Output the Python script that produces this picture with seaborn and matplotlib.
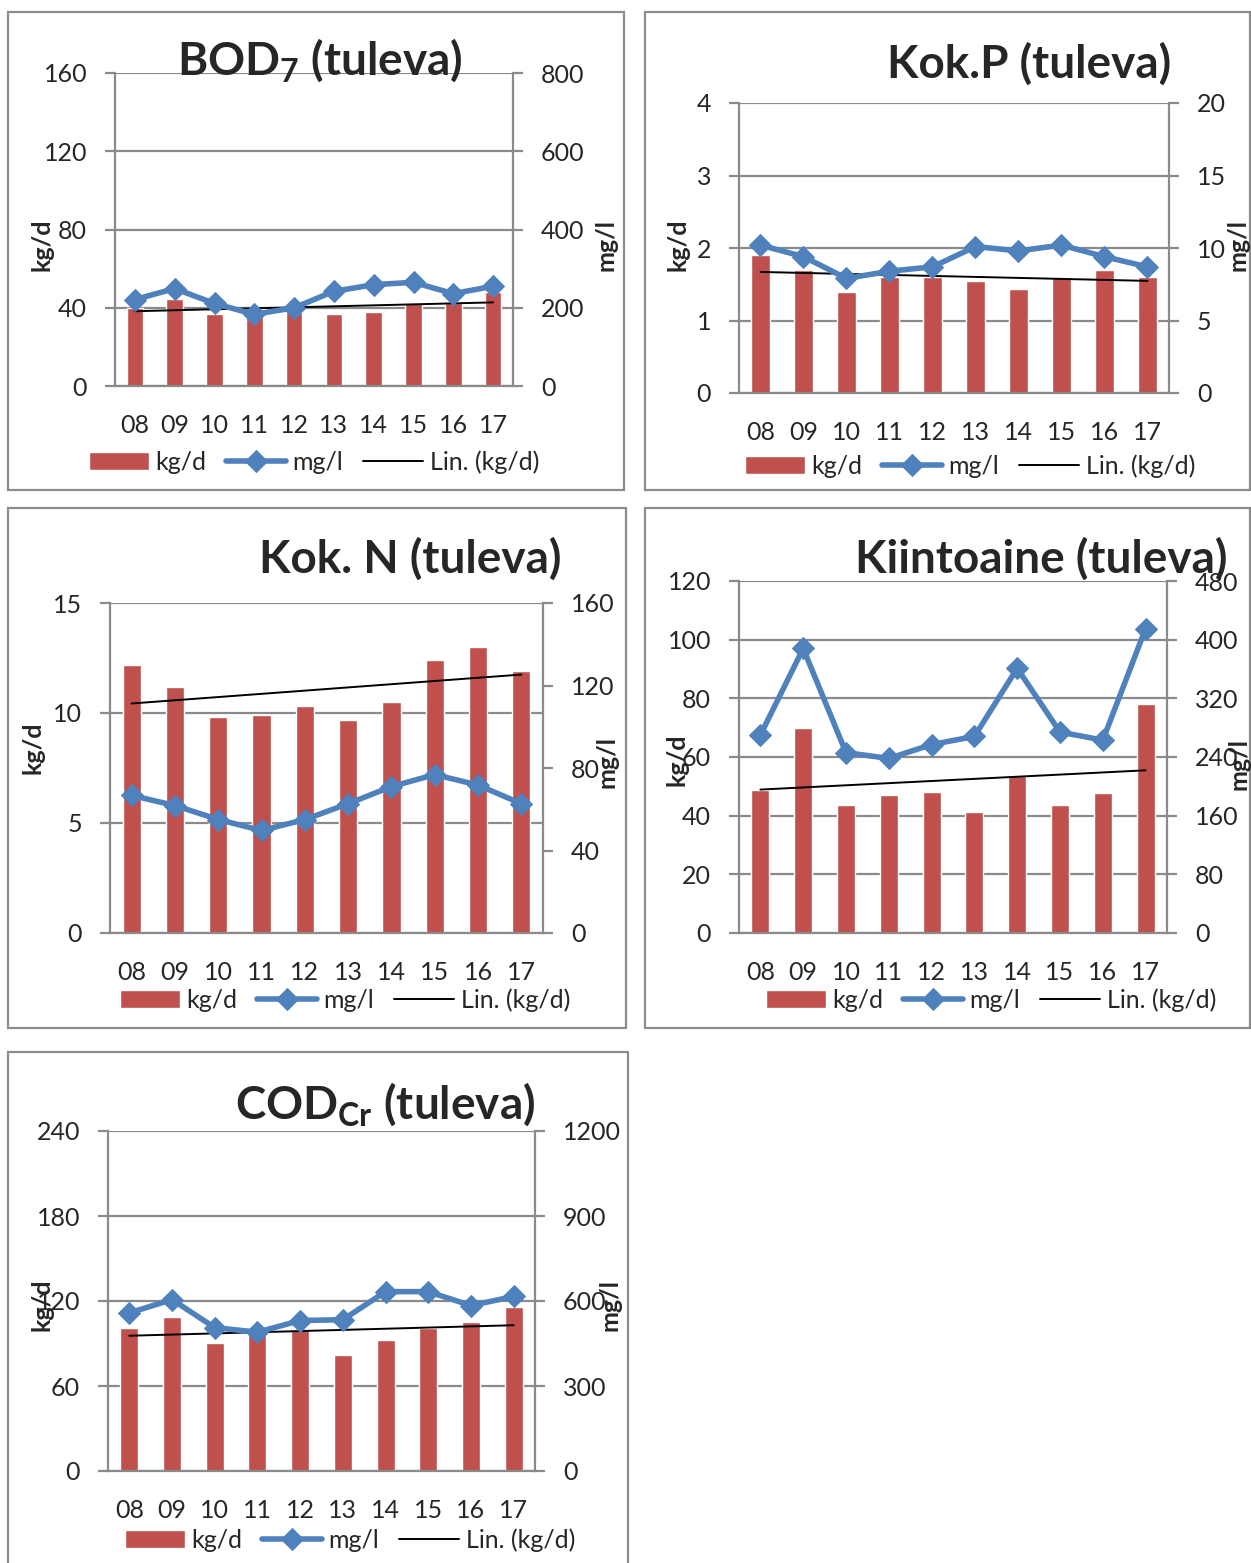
import numpy as np
import matplotlib
matplotlib.use("Agg")
import matplotlib.pyplot as plt
import matplotlib.patches as mpatches
from matplotlib.ticker import FixedLocator
import seaborn as sns

# --- data ---
years = ["08", "09", "10", "11", "12", "13", "14", "15", "16", "17"]

bod_kg = [40, 44.7, 37, 37.5, 38, 37, 37.7, 42.5, 42.5, 47.9]
bod_mg = [221, 249, 211, 183, 200, 242, 259, 265, 236, 255]

kokp_kg = [1.9, 1.7, 1.4, 1.6, 1.6, 1.55, 1.43, 1.6, 1.7, 1.6]
kokp_mg = [10.2, 9.4, 7.9, 8.4, 8.7, 10.1, 9.8, 10.2, 9.4, 8.7]

kokn_kg = [12.2, 11.2, 9.8, 9.9, 10.3, 9.7, 10.5, 12.4, 13.0, 11.9]
kokn_mg = [66.7, 61.8, 55, 49.7, 55, 62.7, 71, 76.8, 71.7, 62.7]

kiinto_kg = [48.8, 69.8, 43.8, 47.1, 48, 41.3, 53.5, 43.8, 47.8, 77.9]
kiinto_mg = [270, 388, 246, 238, 257, 268, 361, 274, 263, 415]

cod_kg = [101, 108.7, 90.2, 96, 99.6, 81.7, 92.5, 101, 105.2, 116]
cod_mg = [558, 605, 506, 490, 531, 534, 633, 633, 584, 616]

kg_ticks = {
    "bod": [0, 40, 80, 120, 160],
    "kokp": [0, 1, 2, 3, 4],
    "kokn": [0, 5, 10, 15],
    "kiinto": [0, 20, 40, 60, 80, 100, 120],
    "cod": [0, 60, 120, 180, 240],
}
mg_ticks = {
    "bod": [0, 200, 400, 600, 800],
    "kokp": [0, 5, 10, 15, 20],
    "kokn": [0, 40, 80, 120, 160],
    "kiinto": [0, 80, 160, 240, 320, 400, 480],
    "cod": [0, 300, 600, 900, 1200],
}

# --- style ---
sns.set_style("white")
plt.rcParams["font.family"] = ["Lato", "DejaVu Sans"]
plt.rcParams["mathtext.fontset"] = "custom"
plt.rcParams["mathtext.rm"] = "Lato"
plt.rcParams["mathtext.bf"] = "Lato:bold"

BAR = "#C0504D"
LINE = "#4F81BD"
GRID = "#8a8a8a"
FS = 18

W, H = 1251, 1563
fig = plt.figure(figsize=(W / 100, H / 100), dpi=100)
fig.patch.set_facecolor("white")


def draw_panel(key, kg, mg, title, box, rect, title_xy, leg_xy, kg_xy, mg_xy):
    # outer chart border
    x0, y0, x1, y1 = box
    fig.add_artist(mpatches.Rectangle((x0 / W, 1 - y1 / H), (x1 - x0) / W, (y1 - y0) / H,
                                      transform=fig.transFigure, fill=False,
                                      edgecolor="#8c8c8c", lw=1.6))
    l, r, t, b = rect
    ax = fig.add_axes([l / W, 1 - b / H, (r - l) / W, (b - t) / H])
    pos = np.arange(len(years))

    sns.barplot(x=years, y=kg, color=BAR, width=0.42, saturation=1, ax=ax,
                label="kg/d", zorder=2)
    sns.regplot(x=pos, y=np.array(kg), scatter=False, ci=None, truncate=True, ax=ax,
                label="Lin. (kg/d)", line_kws=dict(color="black", lw=1.4, zorder=3))

    ax2 = ax.twinx()
    sns.lineplot(x=pos, y=mg, ax=ax2, color=LINE, lw=4, marker="D", markersize=11,
                 markeredgecolor=LINE, label="mg/l")

    for a in (ax, ax2):
        if a.get_legend() is not None:
            a.get_legend().remove()
        a.set_xlabel("")
        a.set_ylabel("")

    ax.set_xlim(-0.5, len(years) - 0.5)
    ax.set_ylim(0, kg_ticks[key][-1])
    ax.set_yticks(kg_ticks[key])
    ax2.set_ylim(0, mg_ticks[key][-1])
    ax2.set_yticks(mg_ticks[key])

    ax.xaxis.set_minor_locator(FixedLocator(np.arange(-0.5, len(years), 1)))
    ax.tick_params(axis="x", which="major", length=0, pad=20, labelsize=FS)
    ax.tick_params(axis="x", which="minor", length=7, width=1.6, color=GRID, direction="out")
    ax.tick_params(axis="y", length=7, width=1.6, color=GRID, pad=13, labelsize=FS, left=True)
    ax2.tick_params(axis="y", length=7, width=1.6, color=GRID, pad=13, labelsize=FS, right=True)

    ax.grid(axis="y", color=GRID, lw=1.6)
    ax.grid(axis="x", visible=False)
    ax.set_axisbelow(True)
    for name, sp in ax.spines.items():
        sp.set_color(GRID)
        sp.set_linewidth(1.6)
        sp.set_visible(name != "top")
    for sp in ax2.spines.values():
        sp.set_visible(False)

    # axis titles
    fig.text(kg_xy[0] / W, 1 - kg_xy[1] / H, "kg/d", rotation=90, ha="center", va="center",
             fontsize=18, fontweight="bold")
    fig.text(mg_xy[0] / W, 1 - mg_xy[1] / H, "mg/l", rotation=90, ha="center", va="center",
             fontsize=18, fontweight="bold")

    fig.text(title_xy[0] / W, 1 - title_xy[1] / H, title, ha="center", va="baseline",
             fontsize=33, fontweight="bold")

    h1, l1 = ax.get_legend_handles_labels()
    h2, l2 = ax2.get_legend_handles_labels()
    hd = dict(zip(l1 + l2, h1 + h2))
    order = ["kg/d", "mg/l", "Lin. (kg/d)"]
    fig.legend([hd[k] for k in order], order, loc="center",
               bbox_to_anchor=(leg_xy[0] / W, 1 - leg_xy[1] / H), ncol=3, frameon=False,
               fontsize=FS, handlelength=2.4, handletextpad=0.25, columnspacing=0.8,
               borderpad=0, borderaxespad=0)


draw_panel("bod", bod_kg, bod_mg, r"BOD$_{\mathbf{7}}$ (tuleva)",
           (8, 12, 624, 490), (115, 513, 73, 386), (320, 75), (314, 462), (42, 245), (606, 245))
draw_panel("kokp", kokp_kg, kokp_mg, "Kok.P (tuleva)",
           (645, 12, 1250, 490), (739, 1169, 103, 393), (1029, 78), (970, 466), (678, 245), (1238, 245))
draw_panel("kokn", kokn_kg, kokn_mg, "Kok. N (tuleva)",
           (8, 508, 626, 1028), (110, 543, 603, 933), (410, 573), (345, 1000), (33, 748), (607, 762))
draw_panel("kiinto", kiinto_kg, kiinto_mg, "Kiintoaine (tuleva)",
           (645, 508, 1250, 1028), (739, 1167, 581, 933), (1041, 573), (991, 1000), (677, 760), (1239, 764))
draw_panel("cod", cod_kg, cod_mg, r"COD$_{\mathbf{Cr}}$ (tuleva)",
           (8, 1052, 628, 1575), (108, 535, 1131, 1471), (385, 1118), (350, 1540), (42, 1305), (610, 1305))

fig.savefig("out.png", dpi=100, facecolor="white")
plt.close(fig)
